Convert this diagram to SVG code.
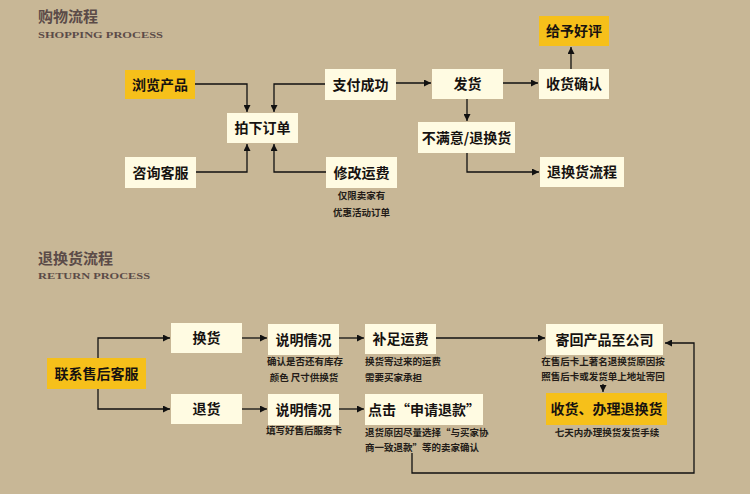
<svg xmlns="http://www.w3.org/2000/svg" width="750" height="494" viewBox="0 0 750 494">
<defs>
<marker id="ah" viewBox="0 0 10 10" refX="10" refY="5" markerWidth="7" markerHeight="7" markerUnits="userSpaceOnUse" orient="auto">
<path d="M0,0 L10,5 L0,10 z" fill="#111"/>
</marker>
</defs>
<style>
.bx{fill:#fffbe2}
.yl{fill:#f6c01a}
.t{font-family:"Noto Sans CJK SC","Noto Sans CJK JP",sans-serif;font-weight:bold;font-size:14px;fill:#161210;text-anchor:middle}
.s{font-family:"Noto Sans CJK SC","Noto Sans CJK JP",sans-serif;font-weight:bold;font-size:9.5px;fill:#231c18;text-anchor:middle}
.sl{font-family:"Noto Sans CJK SC","Noto Sans CJK JP",sans-serif;font-weight:bold;font-size:9.5px;fill:#231c18}
.h{font-family:"Noto Sans CJK SC","Noto Sans CJK JP",sans-serif;font-weight:bold;font-size:15px;fill:#5b4b48}
.e{font-family:"Liberation Serif",serif;font-weight:bold;font-size:9px;fill:#5b4b48}
.c{fill:none;stroke:#111;stroke-width:1.3}
</style>
<rect width="750" height="494" fill="#c8b796"/>

<text class="h" x="38" y="22">购物流程</text>
<text class="e" x="38" y="38" textLength="125" lengthAdjust="spacingAndGlyphs">SHOPPING PROCESS</text>
<text class="h" x="38" y="264">退换货流程</text>
<text class="e" x="38" y="279" textLength="112" lengthAdjust="spacingAndGlyphs">RETURN PROCESS</text>

<g id="connectors">
<path class="c" d="M195,84 H247 V112" marker-end="url(#ah)"/>
<path class="c" d="M325,84 H274 V112" marker-end="url(#ah)"/>
<path class="c" d="M196,172 H247 V144" marker-end="url(#ah)"/>
<path class="c" d="M326,172 H274 V144" marker-end="url(#ah)"/>
<path class="c" d="M396,83 H431" marker-end="url(#ah)"/>
<path class="c" d="M503,83 H538" marker-end="url(#ah)"/>
<path class="c" d="M571,69 V47" marker-end="url(#ah)"/>
<path class="c" d="M467,99 V121" marker-end="url(#ah)"/>
<path class="c" d="M467,153 V172 H539" marker-end="url(#ah)"/>

<path class="c" d="M98,358 V338 H170" marker-end="url(#ah)"/>
<path class="c" d="M98,389 V409 H170" marker-end="url(#ah)"/>
<path class="c" d="M242,338 H267" marker-end="url(#ah)"/>
<path class="c" d="M242,409 H267" marker-end="url(#ah)"/>
<path class="c" d="M339,338 H364" marker-end="url(#ah)"/>
<path class="c" d="M339,409 H364" marker-end="url(#ah)"/>
<path class="c" d="M436,338 H545" marker-end="url(#ah)"/>
<path class="c" d="M603,384 V392" marker-end="url(#ah)"/>
<path class="c" d="M412,453 V473 H694 V343 H665" marker-end="url(#ah)"/>
</g>

<g id="browse"><rect class="yl" x="125" y="70" width="70" height="29"/><text class="t" x="160" y="90">浏览产品</text></g>
<g id="pay"><rect class="bx" x="325" y="69" width="71" height="31"/><text class="t" x="360.5" y="90">支付成功</text></g>
<g id="order"><rect class="bx" x="227" y="113" width="71" height="30"/><text class="t" x="262.5" y="133">拍下订单</text></g>
<g id="consult"><rect class="bx" x="125" y="157" width="71" height="31"/><text class="t" x="160.5" y="178">咨询客服</text></g>
<g id="modify"><rect class="bx" x="326" y="157" width="71" height="31"/><text class="t" x="361.5" y="178">修改运费</text>
<text class="s" x="361.5" y="199">仅限卖家有</text><text class="s" x="361.5" y="216">优惠活动订单</text></g>
<g id="ship"><rect class="bx" x="432" y="69" width="71" height="30"/><text class="t" x="467.5" y="89">发货</text></g>
<g id="confirm"><rect class="bx" x="539" y="69" width="70" height="30"/><text class="t" x="574" y="89">收货确认</text></g>
<g id="review"><rect class="yl" x="539" y="16" width="70" height="30"/><text class="t" x="574" y="36">给予好评</text></g>
<g id="unsatisfied"><rect class="bx" x="418" y="122" width="97" height="31"/><text class="t" x="466.5" y="143">不满意/退换货</text></g>
<g id="returnflow"><rect class="bx" x="540" y="157" width="84" height="30"/><text class="t" x="582" y="177">退换货流程</text></g>

<g id="contact"><rect class="yl" x="47" y="358" width="99" height="31"/><text class="t" x="96.5" y="379">联系售后客服</text></g>
<g id="exchange"><rect class="bx" x="171" y="323" width="71" height="30"/><text class="t" x="206.5" y="343">换货</text></g>
<g id="refund"><rect class="bx" x="171" y="394" width="71" height="30"/><text class="t" x="206.5" y="414">退货</text></g>
<g id="explain1"><rect class="bx" x="268" y="324" width="71" height="31"/><text class="t" x="303.5" y="345">说明情况</text>
<text class="s" x="305" y="365">确认是否还有库存</text><text class="s" x="304" y="381">颜色 尺寸供换货</text></g>
<g id="explain2"><rect class="bx" x="268" y="394" width="71" height="31"/><text class="t" x="303.5" y="415">说明情况</text>
<text class="s" x="304" y="434">填写好售后服务卡</text></g>
<g id="shipping"><rect class="bx" x="365" y="324" width="71" height="30"/><text class="t" x="400.5" y="344">补足运费</text>
<text class="sl" x="365" y="365">换货寄过来的运费</text><text class="sl" x="365" y="381">需要买家承担</text></g>
<g id="apply"><rect class="bx" x="365" y="394" width="118" height="31"/><text class="t" x="424" y="415">点击“申请退款”</text>
<text class="sl" x="365" y="436">退货原因尽量选择“与买家协</text><text class="sl" x="365" y="451">商一致退款”等的卖家确认</text></g>
<g id="sendback"><rect class="bx" x="546" y="324" width="117" height="31"/><text class="t" x="604.5" y="345">寄回产品至公司</text>
<text class="s" x="603" y="365">在售后卡上著名退换货原因按</text><text class="s" x="603" y="380">照售后卡或发货单上地址寄回</text></g>
<g id="receive"><rect class="yl" x="546" y="393" width="121" height="32"/><text class="t" x="606.5" y="414">收货、办理退换货</text>
<text class="s" x="607" y="436">七天内办理换货发货手续</text></g>
</svg>
